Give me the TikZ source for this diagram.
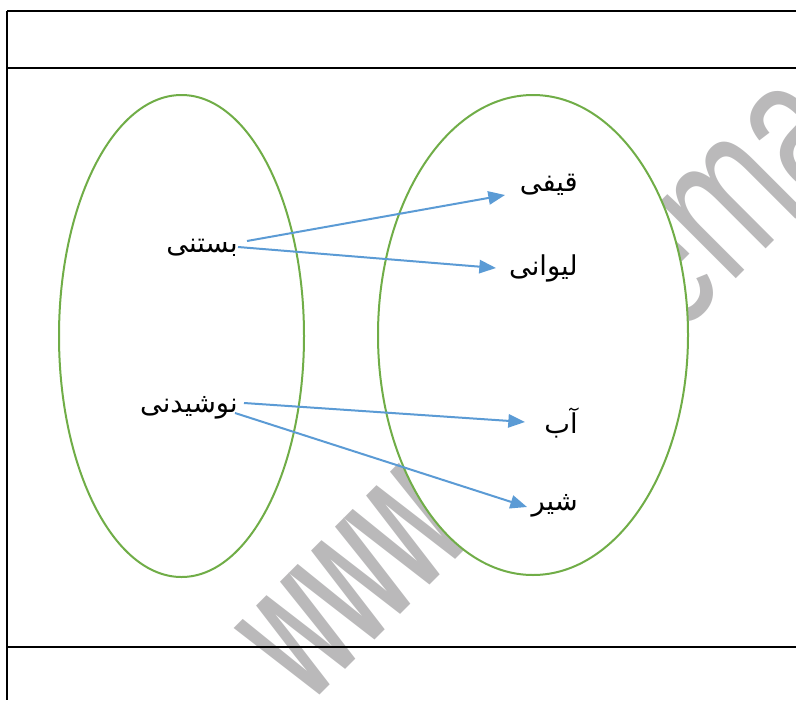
\documentclass[tikz,border=0pt]{standalone}
\usepackage{fontspec}
\setmainfont{Liberation Sans}
\newfontfamily\arabicfont[Script=Arabic]{DejaVu Sans}
\TeXXeTstate=1
\usetikzlibrary{arrows.meta}
\definecolor{setgreen}{HTML}{70AD47}
\definecolor{arrowblue}{HTML}{5B9BD5}
\definecolor{wmgray}{HTML}{BAB9BA}
\tikzset{
  tableline/.style={line width=1.5pt, black},
  setline/.style={line width=1.5pt, setgreen, fill=white},
  linkarrow/.style={line width=1.5pt, arrowblue, -{Triangle[length=12.5pt,width=10pt]}},
  word/.style={inner sep=0pt, font=\arabicfont\fontsize{20.5}{24}\selectfont},
  watermark/.style={inner sep=0pt, text=wmgray}
}
\begin{document}
\begin{tikzpicture}[x=0.75pt,y=-0.75pt]
\useasboundingbox (0,0) rectangle (796,700);
\begin{scope}
\clip (0,0) rectangle (796,700);
\node[watermark, font=\bfseries\fontsize{75}{80}\selectfont, rotate=45, yscale=2.04, anchor=base west] (wmA) at (310,705) {www.};
\node[watermark, font=\fontsize{103.5}{110}\selectfont, rotate=45, yscale=1.48, anchor=base west] (wmB) at (675,340) {ema};
\end{scope}
% table
\draw[tableline] (7,11) -- (796,11);
\draw[tableline] (7,68) -- (796,68);
\draw[tableline] (7,647) -- (796,647);
\draw[tableline] (7,11) -- (7,700);
% sets
\draw[setline] (181.5,336) ellipse [x radius=122.5, y radius=241];
\draw[setline] (533,335) ellipse [x radius=155, y radius=240];
% words
\node[word, anchor=east] (bastani) at (238,248) {\beginR بستنی\endR};
\node[word, anchor=east] (nushidani) at (238,408) {\beginR نوشیدنی\endR};
\node[word, anchor=east] (qifi) at (578,185) {\beginR قیفی\endR};
\node[word, anchor=east] (livani) at (578,268) {\beginR لیوانی\endR};
\node[word, anchor=east] (ab) at (578,423) {\beginR آب\endR};
\node[word, anchor=east] (shir) at (578,506) {\beginR شیر\endR};
% links
\draw[linkarrow] ([shift={(9,-7)}]bastani.east) -- ([shift={(-73,10)}]qifi.east);
\draw[linkarrow] ([shift={(0,-1)}]bastani.east) -- ([shift={(-82,0)}]livani.east);
\draw[linkarrow] ([shift={(6,-5)}]nushidani.east) -- ([shift={(-53,-1)}]ab.east);
\draw[linkarrow] ([shift={(-3,5)}]nushidani.east) -- ([shift={(-51,1)}]shir.east);
\end{tikzpicture}
\end{document}
